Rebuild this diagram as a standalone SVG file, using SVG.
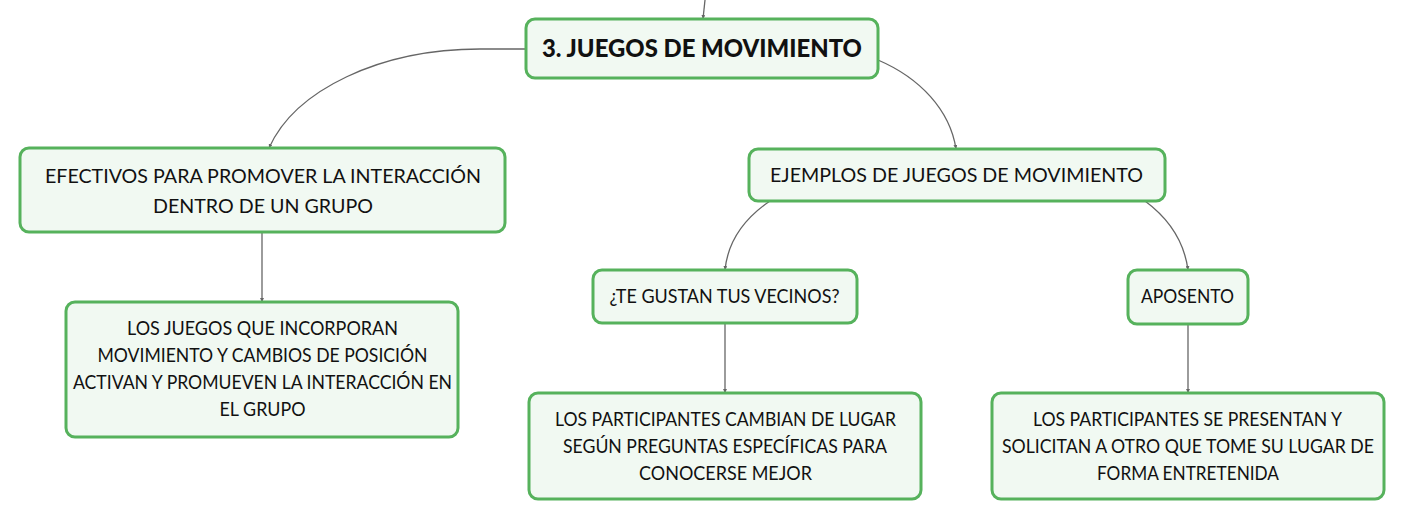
<svg xmlns="http://www.w3.org/2000/svg" width="1405" height="520" viewBox="0 0 1405 520">
<style>
.box{fill:#f1f9f2;stroke:#56b25c;stroke-width:3}
.t{font-family:Lato,"Noto Sans",sans-serif;font-size:18.5px;fill:#111;text-anchor:middle}
.title{font-family:Lato,"Noto Sans",sans-serif;font-size:24px;font-weight:900;fill:#111;text-anchor:middle}
.c{fill:none;stroke:#666;stroke-width:1.3;marker-end:url(#ah)}
</style>
<defs>
<marker id="ah" viewBox="0 0 6 6" refX="6" refY="3" markerWidth="4" markerHeight="4" orient="auto" markerUnits="userSpaceOnUse">
<path d="M0,0 L6,3 L0,6 z" fill="#666"/>
</marker>
</defs>
<rect width="1405" height="520" fill="#ffffff"/>
<g id="connectors">
<path class="c" d="M705,0 L703,19"/>
<path class="c" d="M526,49 L480,49 C380,49 295,90 269,148"/>
<path class="c" d="M878,60 C920,78 950,110 956,149"/>
<path class="c" d="M262,232 L262,302"/>
<path class="c" d="M770,201 C745,218 728,240 725,270"/>
<path class="c" d="M1145,201 C1168,218 1184,240 1188,270"/>
<path class="c" d="M725,323 L725,393"/>
<path class="c" d="M1188,324 L1188,393"/>
</g>
<g id="root">
<rect class="box" x="526" y="19" width="352" height="59" rx="9"/>
<text class="title" x="702" y="57" textLength="320" lengthAdjust="spacingAndGlyphs">3. JUEGOS DE MOVIMIENTO</text>
</g>
<g id="efectivos">
<rect class="box" x="20" y="148" width="485" height="84" rx="9"/>
<text class="t" x="263" y="183" textLength="436" lengthAdjust="spacingAndGlyphs">EFECTIVOS PARA PROMOVER LA INTERACCIÓN</text>
<text class="t" x="263" y="213" textLength="220" lengthAdjust="spacingAndGlyphs">DENTRO DE UN GRUPO</text>
</g>
<g id="juegos">
<rect class="box" x="66" y="302" width="392" height="135" rx="9"/>
<text class="t" x="262.5" y="335" textLength="271" lengthAdjust="spacingAndGlyphs">LOS JUEGOS QUE INCORPORAN</text>
<text class="t" x="262.5" y="362" textLength="330" lengthAdjust="spacingAndGlyphs">MOVIMIENTO Y CAMBIOS DE POSICIÓN</text>
<text class="t" x="262.5" y="389" textLength="379" lengthAdjust="spacingAndGlyphs">ACTIVAN Y PROMUEVEN LA INTERACCIÓN EN</text>
<text class="t" x="262.5" y="416" textLength="86" lengthAdjust="spacingAndGlyphs">EL GRUPO</text>
</g>
<g id="ejemplos">
<rect class="box" x="749" y="149" width="416" height="52" rx="9"/>
<text class="t" x="956.5" y="182" textLength="373" lengthAdjust="spacingAndGlyphs">EJEMPLOS DE JUEGOS DE MOVIMIENTO</text>
</g>
<g id="vecinos">
<rect class="box" x="593" y="270" width="264" height="53" rx="9"/>
<text class="t" x="724.5" y="303" textLength="230" lengthAdjust="spacingAndGlyphs">¿TE GUSTAN TUS VECINOS?</text>
</g>
<g id="participantes1">
<rect class="box" x="529" y="393" width="392" height="106" rx="9"/>
<text class="t" x="725.5" y="426" textLength="341" lengthAdjust="spacingAndGlyphs">LOS PARTICIPANTES CAMBIAN DE LUGAR</text>
<text class="t" x="725" y="453" textLength="324" lengthAdjust="spacingAndGlyphs">SEGÚN PREGUNTAS ESPECÍFICAS PARA</text>
<text class="t" x="725.5" y="480" textLength="173" lengthAdjust="spacingAndGlyphs">CONOCERSE MEJOR</text>
</g>
<g id="aposento">
<rect class="box" x="1128" y="270" width="120" height="54" rx="9"/>
<text class="t" x="1187.5" y="303" textLength="93" lengthAdjust="spacingAndGlyphs">APOSENTO</text>
</g>
<g id="participantes2">
<rect class="box" x="992" y="393" width="392" height="106" rx="9"/>
<text class="t" x="1187.5" y="426" textLength="309" lengthAdjust="spacingAndGlyphs">LOS PARTICIPANTES SE PRESENTAN Y</text>
<text class="t" x="1188" y="453" textLength="372" lengthAdjust="spacingAndGlyphs">SOLICITAN A OTRO QUE TOME SU LUGAR DE</text>
<text class="t" x="1188" y="480" textLength="182" lengthAdjust="spacingAndGlyphs">FORMA ENTRETENIDA</text>
</g>
</svg>
